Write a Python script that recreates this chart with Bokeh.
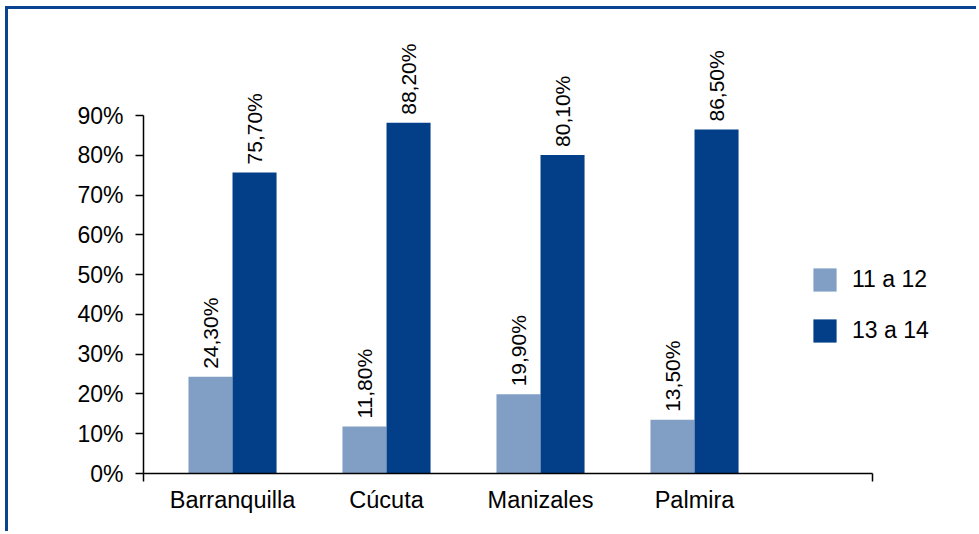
from bokeh.plotting import figure
from bokeh.models import ColumnDataSource, FixedTicker, Legend, LegendItem
from bokeh.transform import dodge
from bokeh.core.properties import value
from bokeh.embed import file_html
from bokeh.resources import INLINE

# ---- data ----
cities = ["Barranquilla", "Cúcuta", "Manizales", "Palmira"]
serie_11_12 = [24.3, 11.8, 19.9, 13.5]
serie_13_14 = [75.7, 88.2, 80.1, 86.5]
labels_11_12 = ["24,30%", "11,80%", "19,90%", "13,50%"]
labels_13_14 = ["75,70%", "88,20%", "80,10%", "86,50%"]
series_names = ["11 a 12", "13 a 14"]
y_ticks = [0, 10, 20, 30, 40, 50, 60, 70, 80, 90]

LIGHT = "#819fc5"
DARK = "#033f88"
FONT = "Liberation Sans"

pos = list(range(len(cities)))
src = ColumnDataSource(dict(x=pos, a=serie_11_12, b=serie_13_14,
                            la=labels_11_12, lb=labels_13_14))

x_start = -0.578
x_end = x_start + 836 / 154.0
y_end = 457.7 / 3.974

p = figure(width=971, height=525, x_range=(x_start, x_end), y_range=(0, y_end),
           output_backend="svg", toolbar_location=None,
           min_border_left=135, min_border_right=0, min_border_top=6,
           min_border_bottom=61)
p.styles = {"border-top": "3px solid #0a4390", "border-left": "3px solid #0a4390",
            "margin-left": "5px", "margin-top": "6px"}
p.outline_line_color = None
p.grid.grid_line_color = None
p.background_fill_color = "white"

W = 0.286
r1 = p.vbar(x=dodge("x", -W / 2), top="a", width=W, source=src,
            fill_color=LIGHT, line_color=None)
r2 = p.vbar(x=dodge("x", W / 2), top="b", width=W, source=src,
            fill_color=DARK, line_color=None)

for col, lab, off in (("a", "la", -W / 2), ("b", "lb", W / 2)):
    p.text(x=dodge("x", off), y=col, text=lab, source=src, angle=1.5708,
           text_align="left", text_baseline="middle", y_offset=-8,
           text_font=value(FONT), text_font_size="21px", text_color="black")

# axes
xa = p.xaxis[0]
xa.ticker = FixedTicker(ticks=pos, minor_ticks=[x_start, 4.156])
xa.major_label_overrides = {i: c for i, c in enumerate(cities)}
xa.bounds = (x_start, 4.156)
xa.major_tick_line_color = None
xa.major_tick_out = 0
xa.major_tick_in = 0
xa.minor_tick_out = 8
xa.minor_tick_in = 0
xa.minor_tick_line_color = "black"
xa.minor_tick_line_width = 1.5
xa.axis_line_color = "black"
xa.axis_line_width = 1.5
xa.major_label_text_font = FONT
xa.major_label_text_font_size = "23.5px"
xa.major_label_text_color = "black"
xa.major_label_standoff = 5

ya = p.yaxis[0]
ya.ticker = FixedTicker(ticks=y_ticks)
ya.major_label_overrides = {t: f"{t}%" for t in y_ticks}
ya.bounds = (0, 90)
ya.major_tick_out = 8
ya.major_tick_in = 0
ya.minor_tick_line_color = None
ya.major_tick_line_width = 1.5
ya.axis_line_width = 1.5
ya.axis_line_color = "black"
ya.major_label_text_font = FONT
ya.major_label_text_font_size = "23px"
ya.major_label_text_color = "black"
ya.major_label_standoff = 12

legend = Legend(items=[LegendItem(label=series_names[0], renderers=[r1]),
                       LegendItem(label=series_names[1], renderers=[r2])],
                location=(667, 128), padding=0, margin=0, spacing=22,
                glyph_width=29, glyph_height=29, label_standoff=13,
                label_text_font=FONT, label_text_font_size="23px",
                label_text_color="black",
                border_line_color=None, background_fill_alpha=0)
p.add_layout(legend, "center")

open("out.html", "w").write(file_html(p, INLINE))
